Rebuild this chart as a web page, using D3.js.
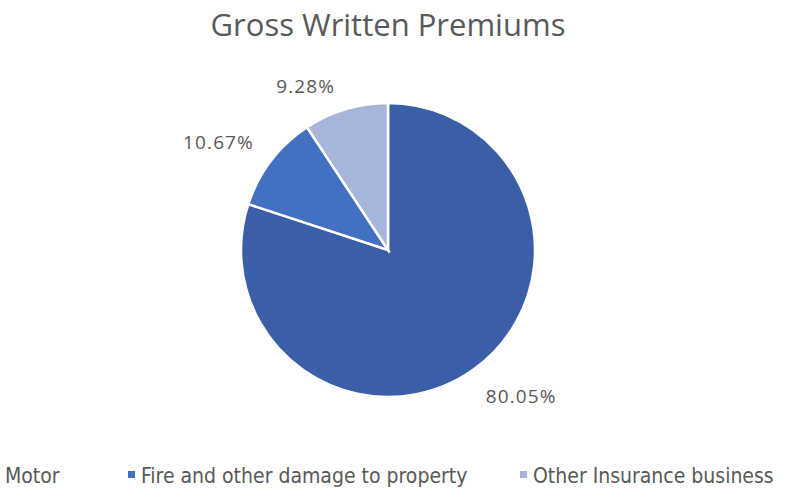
<!DOCTYPE html>
<html>
    <head>
        <script src="https://cdn.jsdelivr.net/npm/d3@7"></script>
        <style>
            body { margin: 0; background: #fff; }
        </style>
    </head>
    <body>
        <script>
            var w = 788;
            var h = 488;

            var categories = ["Motor", "Fire and other damage to property", "Other Insurance business"];
            var shares = [80.05, 10.67, 9.28];
            var colors = ["#3B5FA7", "#4470C2", "#A8B5DB"];

            var data = categories.map((c, i) => ({name: c, value: shares[i], color: colors[i]}));

            var svg = d3.select("body")
                        .append("svg")
                        .attr("width", w)
                        .attr("height", h);

            //title
            svg.append("text")
               .attr("x", 388)
               .attr("y", 36)
               .attr("text-anchor", "middle")
               .attr("font-family", "Open Sans, sans-serif")
               .attr("font-size", "31px")
               .attr("fill", "#595959")
               .text("Gross Written Premiums");

            var cx = 388, cy = 250, r = 147;

            var pie = d3.pie().sort(null).value(d => d.value);
            var arc = d3.arc().innerRadius(0).outerRadius(r);
            var arcs = pie(data);

            var g = svg.append("g").attr("transform", "translate(" + cx + "," + cy + ")");

            g.selectAll("path")
             .data(arcs)
             .enter()
             .append("path")
             .attr("d", arc)
             .attr("fill", d => d.data.color)
             .attr("stroke", "#fff")
             .attr("stroke-width", 2.5);

            //labels outside end
            var lr = 160;
            var mid = d => (d.startAngle + d.endAngle) / 2;
            g.selectAll("text.lbl")
             .data(arcs)
             .enter()
             .append("text")
             .attr("class", "lbl")
             .attr("x", d => Math.sin(mid(d)) * lr + (Math.sin(mid(d)) < 0 ? -7 : 4))
             .attr("y", d => -Math.cos(mid(d)) * lr + (Math.cos(mid(d)) < 0 ? 23 : -4))
             .attr("text-anchor", d => Math.sin(mid(d)) < 0 ? "end" : "start")
             .attr("font-family", "Open Sans, sans-serif")
             .attr("font-size", "19px")
             .attr("letter-spacing", "1.1px")
             .attr("fill", "#595959")
             .text(d => d.data.value.toFixed(2) + "%");

            //legend (first entry runs off the left edge)
            var legX = [-8, 128, 520];
            var leg = svg.selectAll("g.leg")
                         .data(data)
                         .enter()
                         .append("g")
                         .attr("class", "leg")
                         .attr("transform", (d, i) => "translate(" + legX[i] + ",476)");

            leg.append("rect")
               .attr("x", 0)
               .attr("y", -5)
               .attr("width", 7)
               .attr("height", 7)
               .attr("fill", d => d.color);

            leg.append("text")
               .attr("x", 13)
               .attr("y", 7)
               .attr("font-family", "Liberation Sans Narrow, DejaVu Sans Condensed, sans-serif")
               .attr("font-size", "21px")
               .attr("fill", "#595959")
               .text(d => d.name);
        </script>
    </body>
</html>
